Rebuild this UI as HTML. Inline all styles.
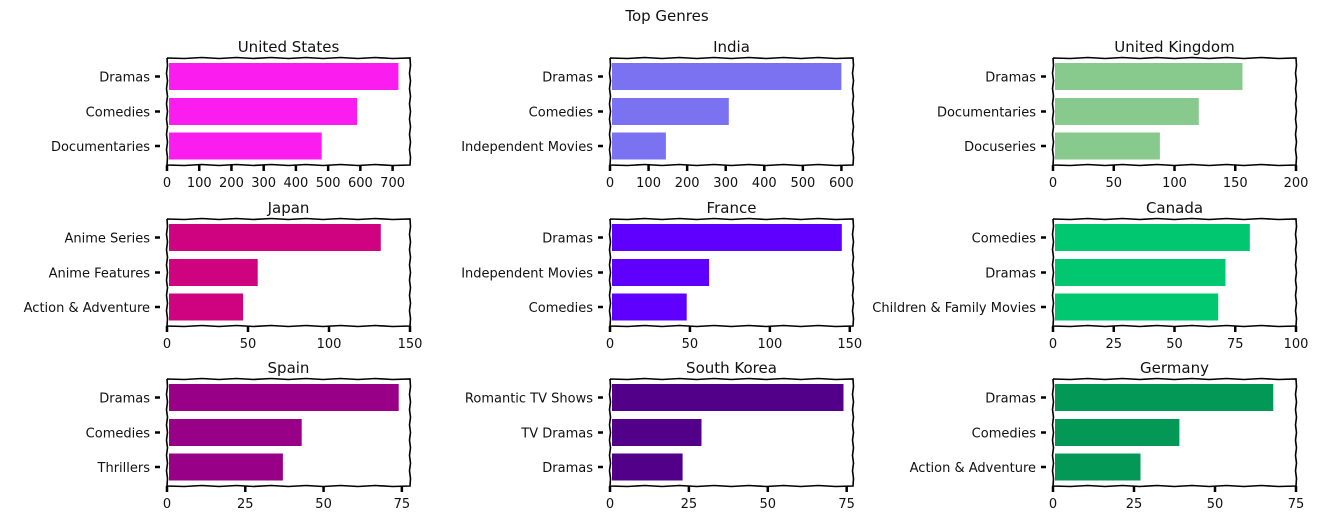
<!DOCTYPE html>
<html><head><meta charset="utf-8"><style>
html,body{margin:0;padding:0;background:#fff;}
svg{display:block;font-family:"DejaVu Sans","Liberation Sans",sans-serif;}
</style></head><body>
<svg id="s" width="1320" height="522" xmlns="http://www.w3.org/2000/svg">
<text x="667" y="21" font-size="15" text-anchor="middle" fill="#111">Top Genres</text>
</svg>
<script>
var data=[
["United States","#fb1cf0",754,[0,100,200,300,400,500,600,700],[["Dramas",718],["Comedies",590],["Documentaries",480]]],
["India","#7b72f2",630,[0,100,200,300,400,500,600],[["Dramas",600],["Comedies",308],["Independent Movies",145]]],
["United Kingdom","#88c98e",200,[0,50,100,150,200],[["Dramas",156],["Documentaries",120],["Docuseries",88]]],
["Japan","#cf0380",150,[0,50,100,150],[["Anime Series",132],["Anime Features",56],["Action & Adventure",47]]],
["France","#5f00ff",152,[0,50,100,150],[["Dramas",145],["Independent Movies",62],["Comedies",48]]],
["Canada","#00c770",100,[0,25,50,75,100],[["Comedies",81],["Dramas",71],["Children & Family Movies",68]]],
["Spain","#990088",77.6,[0,25,50,75],[["Dramas",74],["Comedies",43],["Thrillers",37]]],
["South Korea","#520089",77,[0,25,50,75],[["Romantic TV Shows",74],["TV Dramas",29],["Dramas",23]]],
["Germany","#039855",75,[0,25,50,75],[["Dramas",68],["Comedies",39],["Action & Adventure",27]]]
];
var xs=[167,610,1053],ys=[58,219,379],W=243,H=107;
var s=document.getElementById('s'),h='';
function wav(x1,y1,x2,y2){var d='M'+x1+' '+y1,n=14;for(var i=1;i<=n;i++){var t=i/n,x=x1+(x2-x1)*t,y=y1+(y2-y1)*t;var o=(i==n?0:(i%2?0.5:-0.5));if(x1==x2)x+=o;else y+=o;d+=' L'+x.toFixed(1)+' '+y.toFixed(1);}return d;}
data.forEach(function(d,k){
var X=xs[k%3],Y=ys[Math.floor(k/3)];
h+='<text x="'+(X+W/2)+'" y="'+(Y-6)+'" font-size="15" text-anchor="middle" fill="#111">'+d[0]+'</text>';
var cs=[18.5,53.5,88];
d[4].forEach(function(b,i){
var w=b[1]/d[2]*W-2;
h+='<rect x="'+(X+2)+'" y="'+(Y+cs[i]-13.5)+'" width="'+w.toFixed(1)+'" height="27" fill="'+d[1]+'"/>';
h+='<line x1="'+(X-12)+'" x2="'+(X-7)+'" y1="'+(Y+cs[i])+'" y2="'+(Y+cs[i])+'" stroke="#000" stroke-width="2.5"/>';
h+='<text x="'+(X-17)+'" y="'+(Y+cs[i]+5)+'" font-size="13" text-anchor="end" fill="#111">'+b[0].replace('&','&amp;')+'</text>';
});
h+='<path d="'+wav(X,Y,X+W,Y)+' '+wav(X+W,Y,X+W,Y+H).replace('M','L')+' '+wav(X+W,Y+H,X,Y+H).replace('M','L')+' '+wav(X,Y+H,X,Y).replace('M','L')+'" fill="none" stroke="#000" stroke-width="1.6"/>';
d[3].forEach(function(t){
var tx=X+t/d[2]*W;
h+='<line x1="'+tx+'" x2="'+tx+'" y1="'+(Y+H)+'" y2="'+(Y+H+6)+'" stroke="#000" stroke-width="2.5"/>';
h+='<text x="'+tx+'" y="'+(Y+H+22)+'" font-size="13" text-anchor="middle" fill="#111">'+t+'</text>';
});
});
s.insertAdjacentHTML('beforeend',h);
</script>
</body></html>
